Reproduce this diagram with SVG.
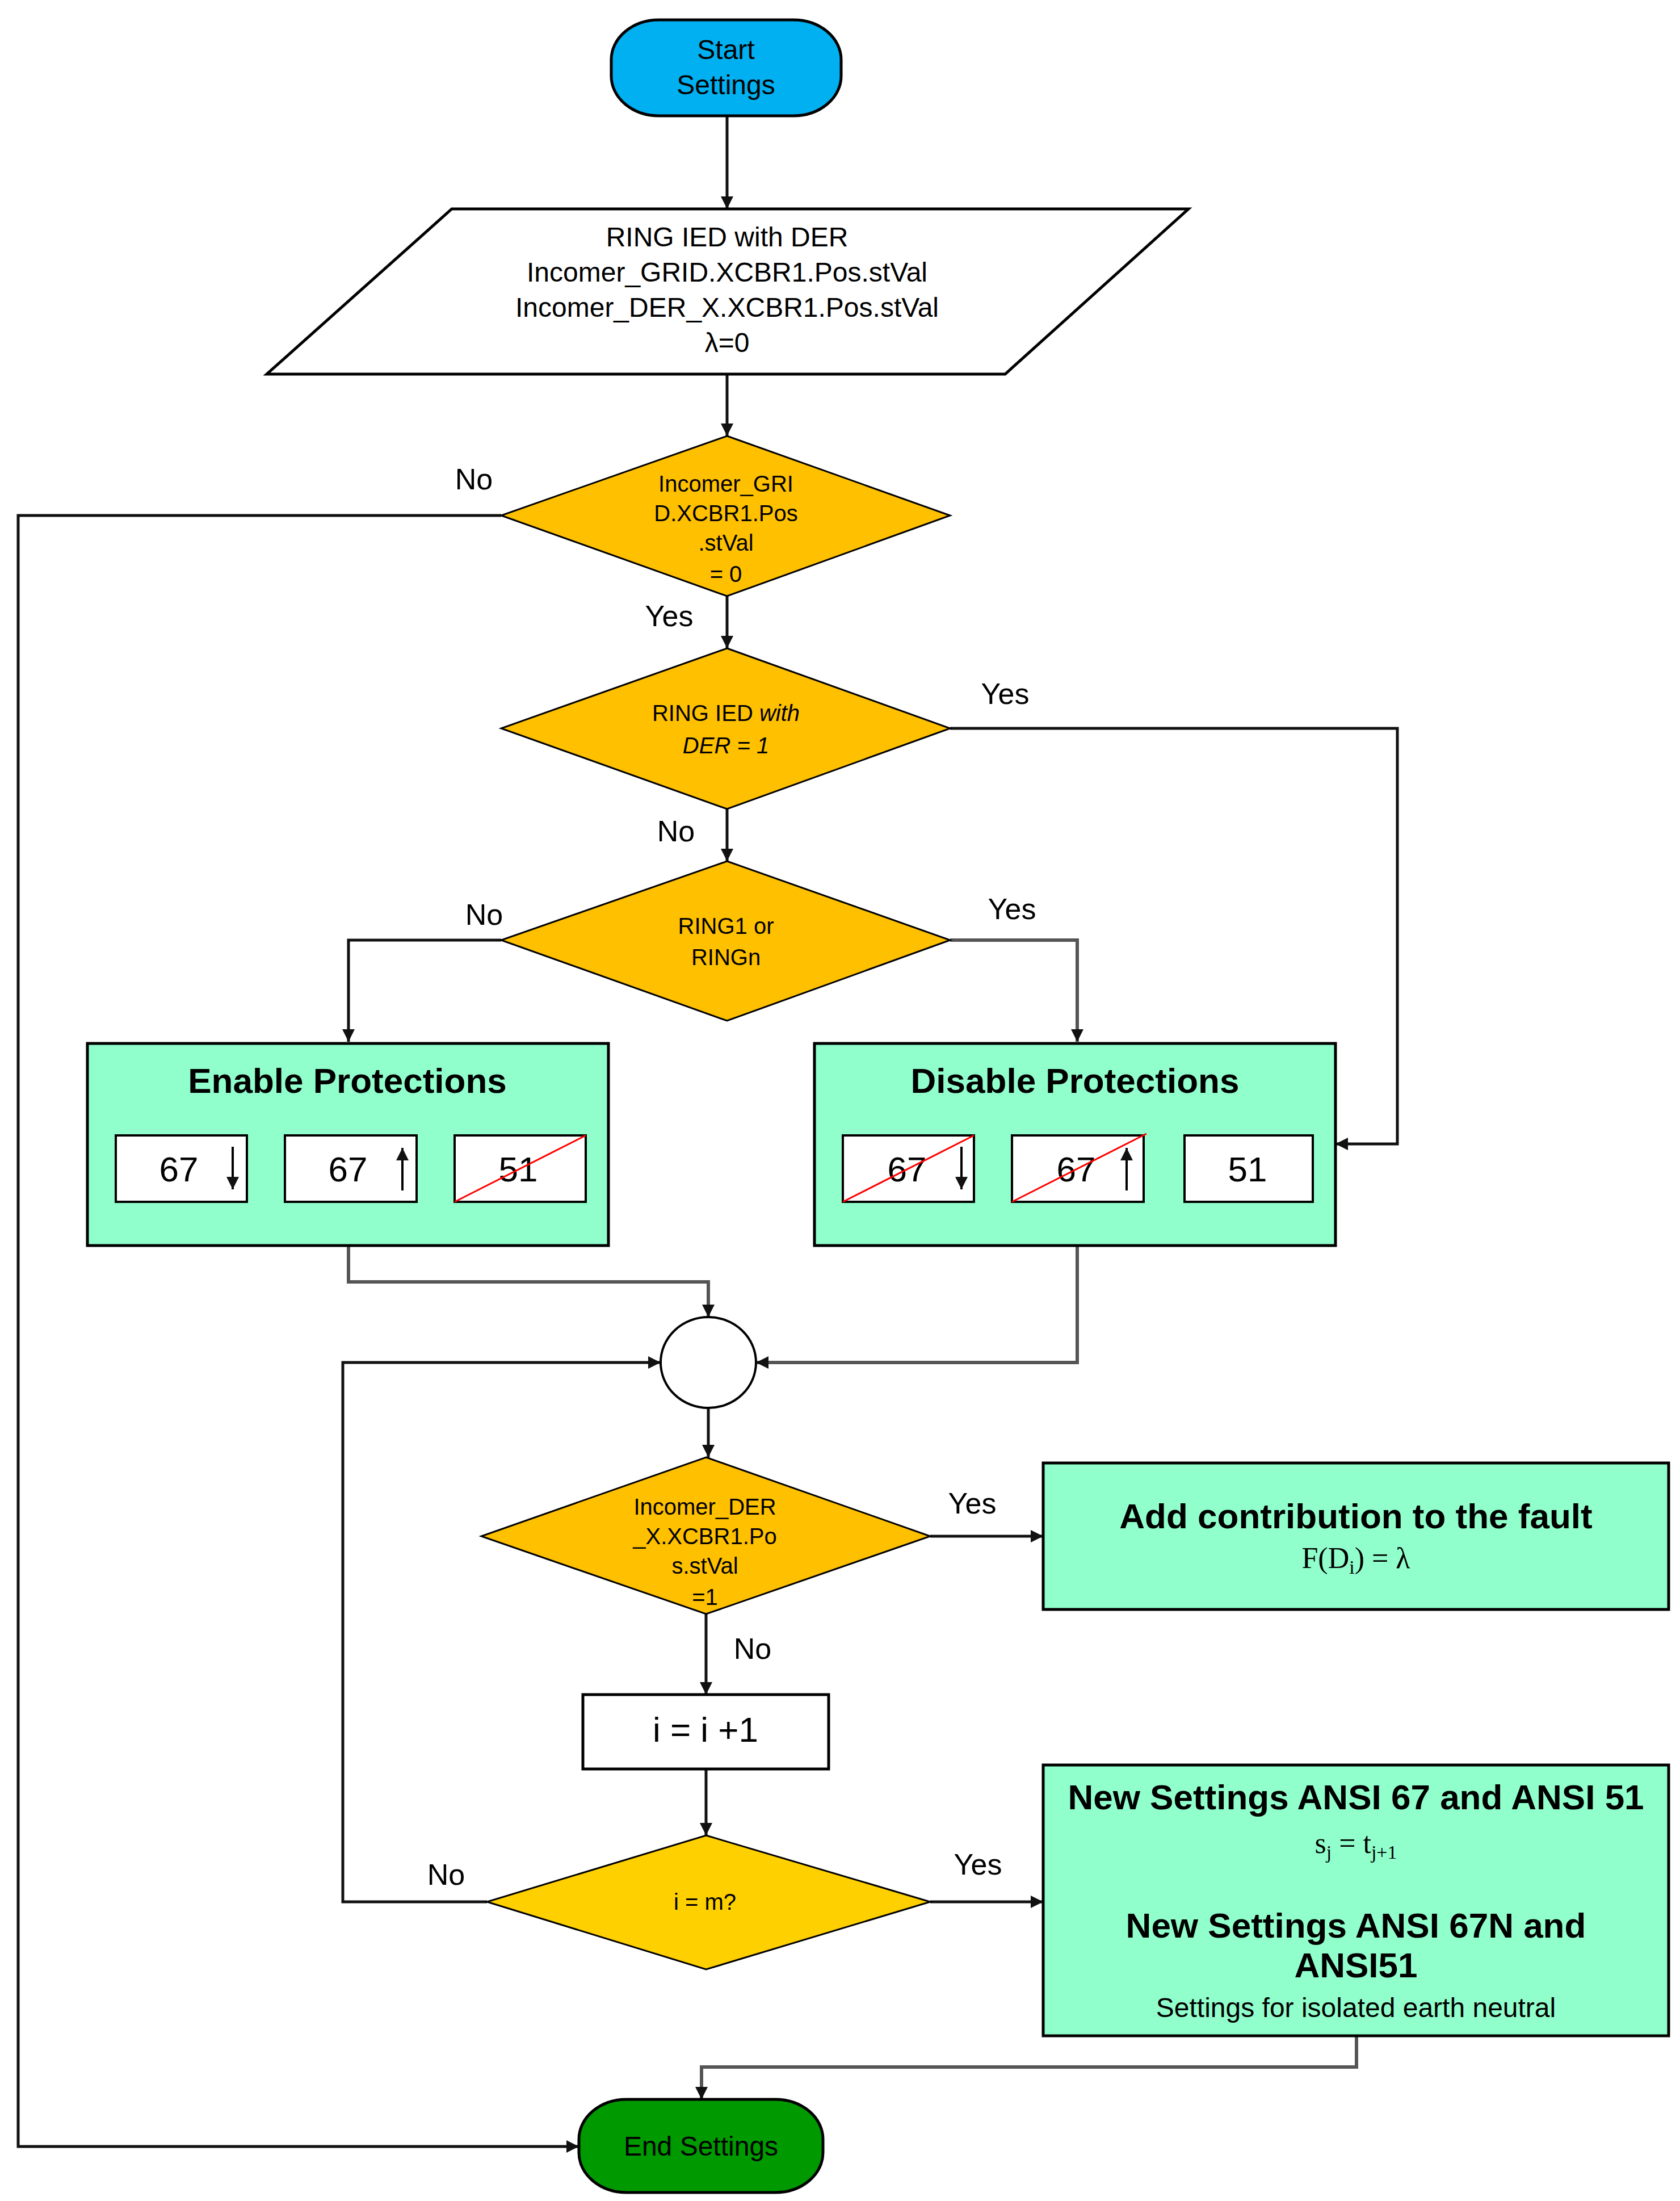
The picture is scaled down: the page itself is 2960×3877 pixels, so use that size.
<svg xmlns="http://www.w3.org/2000/svg" width="2960" height="3877" viewBox="0 0 2960 3877">
<defs>
<marker id="ah" viewBox="0 0 10 10" refX="10" refY="5" markerWidth="10" markerHeight="10" markerUnits="userSpaceOnUse" orient="auto"><path d="M0,0 L10,5 L0,10 z" fill="#111"/></marker>
<marker id="a" viewBox="0 0 10 10" refX="10" refY="5" markerWidth="26" markerHeight="22" markerUnits="userSpaceOnUse" orient="auto"><path d="M0,0 L10,5 L0,10 z" fill="#111"/></marker>
<style>
text{font-family:"Liberation Sans",Arial,sans-serif;fill:#000;text-anchor:middle}
.s{stroke:#000;stroke-width:5}
.dia{fill:#FFC000;stroke:#000;stroke-width:3}
.grn{fill:#90FFCC;stroke:#000;stroke-width:5}
.sub{fill:#fff;stroke:#000;stroke-width:4}
.c{fill:none;stroke:#111;stroke-width:5;marker-end:url(#a)}
.cg{fill:none;stroke:#555;stroke-width:6;marker-end:url(#a)}
.lbl{font-size:52px}
.t{font-size:48px}
.d{font-size:40px}
.b{font-size:62px;font-weight:bold}
.n{font-size:62px}
.red{stroke:#FF0000;stroke-width:3}
.m{font-family:"Liberation Serif","DejaVu Serif",serif;font-size:52px}
</style>
</defs>
<rect width="2960" height="3877" fill="#fff"/>
<g id="connectors">
<path class="c" d="M1281,204 V368"/>
<path class="c" d="M1281,659 V768"/>
<path class="c" d="M883,908 H32 V3781 H1020"/>
<path class="c" d="M1281,1050 V1142"/>
<path class="c" d="M1674,1283 H2462 V2015 H2353"/>
<path class="c" d="M1281,1425 V1517"/>
<path class="c" d="M883,1656 H614 V1835"/>
<path class="cg" d="M1674,1656 H1898 V1835"/>
<path class="cg" d="M614,2194 V2258 H1248 V2320"/>
<path class="cg" d="M1898,2194 V2400 H1332"/>
<path class="c" d="M858,3350 H604 V2400 H1164"/>
<path class="c" d="M1248,2480 V2567"/>
<path class="c" d="M1639,2706 H1838"/>
<path class="c" d="M1244,2843 V2985"/>
<path class="c" d="M1244,3116 V3233"/>
<path class="c" d="M1639,3350 H1838"/>
<path class="cg" d="M2390,3586 V3641 H1236 V3698"/>
<text class="lbl" x="835" y="862">No</text>
<text class="lbl" x="1179" y="1103">Yes</text>
<text class="lbl" x="1771" y="1240">Yes</text>
<text class="lbl" x="1191" y="1482">No</text>
<text class="lbl" x="853" y="1629">No</text>
<text class="lbl" x="1783" y="1619">Yes</text>
<text class="lbl" x="1713" y="2666">Yes</text>
<text class="lbl" x="1326" y="2922">No</text>
<text class="lbl" x="786" y="3320">No</text>
<text class="lbl" x="1723" y="3302">Yes</text>
</g>
<g id="start">
<rect x="1077" y="35" width="405" height="169" rx="84" ry="70" fill="#00B0F0" class="s"/>
<text class="t" x="1279" y="104">Start</text>
<text class="t" x="1279" y="166">Settings</text>
</g>
<g id="input">
<polygon points="796,368 2094,368 1771,659 470,659" fill="#fff" class="s"/>
<text class="t" x="1281" y="434">RING IED with DER</text>
<text class="t" x="1281" y="496">Incomer_GRID.XCBR1.Pos.stVal</text>
<text class="t" x="1281" y="558">Incomer_DER_X.XCBR1.Pos.stVal</text>
<text class="t" x="1281" y="620">λ=0</text>
</g>
<g id="dec1">
<polygon class="dia" points="1281,768 1674,908 1281,1050 883,908"/>
<text class="d" x="1279" y="866">Incomer_GRI</text>
<text class="d" x="1279" y="918">D.XCBR1.Pos</text>
<text class="d" x="1279" y="970">.stVal</text>
<text class="d" x="1279" y="1025">= 0</text>
</g>
<g id="dec2">
<polygon class="dia" points="1281,1142 1674,1283 1281,1425 883,1283"/>
<text class="d" x="1279" y="1270">RING IED <tspan font-style="italic">with</tspan></text>
<text class="d" x="1279" y="1327" font-style="italic">DER = 1</text>
</g>
<g id="dec3">
<polygon class="dia" points="1281,1517 1674,1656 1281,1798 883,1656"/>
<text class="d" x="1279" y="1645">RING1 or</text>
<text class="d" x="1279" y="1700">RINGn</text>
</g>
<g id="enable">
<rect class="grn" x="154" y="1838" width="918" height="356"/>
<text class="b" x="612" y="1925">Enable Protections</text>
<rect class="sub" x="204" y="2000" width="231" height="117"/>
<text class="n" x="315" y="2081">67</text>
<path d="M410,2020 V2095" stroke="#000" stroke-width="4" marker-end="url(#a)"/>
<rect class="sub" x="502" y="2000" width="232" height="117"/>
<text class="n" x="613" y="2081">67</text>
<path d="M709,2097 V2022" stroke="#000" stroke-width="4" marker-end="url(#a)"/>
<rect class="sub" x="801" y="2000" width="231" height="117"/>
<text class="n" x="913" y="2081">51</text>
<line class="red" x1="801" y1="2117" x2="1032" y2="2000"/>
</g>
<g id="disable">
<rect class="grn" x="1435" y="1838" width="918" height="356"/>
<text class="b" x="1894" y="1925">Disable Protections</text>
<rect class="sub" x="1485" y="2000" width="231" height="117"/>
<text class="n" x="1598" y="2081">67</text>
<path d="M1694,2020 V2095" stroke="#000" stroke-width="4" marker-end="url(#a)"/>
<line class="red" x1="1485" y1="2117" x2="1716" y2="2000"/>
<rect class="sub" x="1783" y="2000" width="232" height="117"/>
<text class="n" x="1896" y="2081">67</text>
<path d="M1985,2097 V2022" stroke="#000" stroke-width="4" marker-end="url(#a)"/>
<line class="red" x1="1783" y1="2117" x2="2020" y2="1997"/>
<rect class="sub" x="2087" y="2000" width="226" height="117"/>
<text class="n" x="2198" y="2081">51</text>
</g>
<g id="junction">
<ellipse cx="1248" cy="2400" rx="84" ry="80" fill="#fff" stroke="#000" stroke-width="4"/>
</g>
<g id="dec4">
<polygon class="dia" points="1244,2567 1639,2706 1244,2843 848,2706"/>
<text class="d" x="1242" y="2668">Incomer_DER</text>
<text class="d" x="1242" y="2720">_X.XCBR1.Po</text>
<text class="d" x="1242" y="2772">s.stVal</text>
<text class="d" x="1242" y="2827">=1</text>
</g>
<g id="addcontrib">
<rect class="grn" x="1838" y="2577" width="1102" height="258"/>
<text class="b" x="2389" y="2692">Add contribution to the fault</text>
<text class="m" x="2389" y="2762">F(D<tspan font-size="34" dy="10">i</tspan><tspan dy="-10">) = λ</tspan></text>
</g>
<g id="incr">
<rect x="1027" y="2985" width="433" height="131" fill="#fff" class="s"/>
<text class="n" x="1243" y="3068">i = i +1</text>
</g>
<g id="dec5">
<polygon points="1244,3233 1639,3350 1244,3469 858,3350" fill="#FFD000" stroke="#000" stroke-width="3"/>
<text class="d" x="1242" y="3364">i = m?</text>
</g>
<g id="newsettings">
<rect class="grn" x="1838" y="3109" width="1102" height="477"/>
<text class="b" x="2389" y="3187">New Settings ANSI 67 and ANSI 51</text>
<text class="m" x="2389" y="3264">s<tspan font-size="34" dy="10">j</tspan><tspan dy="-10"> = t</tspan><tspan font-size="34" dy="10">j+1</tspan></text>
<text class="b" x="2389" y="3413">New Settings ANSI 67N and</text>
<text class="b" x="2389" y="3483">ANSI51</text>
<text class="t" x="2389" y="3553">Settings for isolated earth neutral</text>
</g>
<g id="end">
<rect x="1020" y="3698" width="430" height="164" rx="84" ry="70" fill="#009900" class="s"/>
<text class="t" x="1235" y="3797">End Settings</text>
</g>
</svg>
